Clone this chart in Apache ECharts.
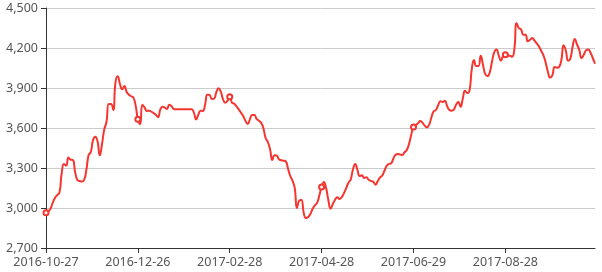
<!DOCTYPE html>
<html>
<head>
<meta charset="utf-8">
<script src="https://cdn.jsdelivr.net/npm/echarts@6/dist/echarts.min.js"></script>
<style>
html,body{margin:0;padding:0;background:#fff;}
#chart{width:602px;height:272px;}
</style>
</head>
<body>
<div id="chart"></div>
<script>
// Category dates (label shown every 41st point)
const dates = [
  // segment from 2016-10-27
  '2016-10-27','2016-10-28','2016-10-31','2016-11-01','2016-11-02','2016-11-03','2016-11-04','2016-11-07','2016-11-08','2016-11-09',
  '2016-11-10','2016-11-11','2016-11-14','2016-11-15','2016-11-16','2016-11-17','2016-11-18','2016-11-21','2016-11-22','2016-11-23',
  '2016-11-24','2016-11-28','2016-11-29','2016-11-30','2016-12-01','2016-12-02','2016-12-05','2016-12-06','2016-12-07','2016-12-08',
  '2016-12-09','2016-12-12','2016-12-13','2016-12-14','2016-12-15','2016-12-16','2016-12-19','2016-12-20','2016-12-21','2016-12-22',
  '2016-12-23',
  // segment from 2016-12-26
  '2016-12-26','2016-12-27','2016-12-28','2016-12-29','2016-12-30','2017-01-03','2017-01-04','2017-01-05','2017-01-06','2017-01-09',
  '2017-01-10','2017-01-11','2017-01-12','2017-01-13','2017-01-16','2017-01-17','2017-01-18','2017-01-19','2017-01-20','2017-01-23',
  '2017-01-24','2017-01-25','2017-01-26','2017-01-27','2017-02-03','2017-02-06','2017-02-07','2017-02-08','2017-02-09','2017-02-10',
  '2017-02-13','2017-02-14','2017-02-15','2017-02-16','2017-02-17','2017-02-20','2017-02-21','2017-02-22','2017-02-23','2017-02-24',
  '2017-02-27',
  // segment from 2017-02-28
  '2017-02-28','2017-03-01','2017-03-02','2017-03-03','2017-03-06','2017-03-07','2017-03-08','2017-03-09','2017-03-10','2017-03-13',
  '2017-03-14','2017-03-15','2017-03-16','2017-03-17','2017-03-20','2017-03-21','2017-03-22','2017-03-23','2017-03-24','2017-03-27',
  '2017-03-28','2017-03-29','2017-03-30','2017-03-31','2017-04-05','2017-04-06','2017-04-07','2017-04-10','2017-04-11','2017-04-12',
  '2017-04-13','2017-04-14','2017-04-17','2017-04-18','2017-04-19','2017-04-20','2017-04-21','2017-04-24','2017-04-25','2017-04-26',
  '2017-04-27',
  // segment from 2017-04-28
  '2017-04-28','2017-05-02','2017-05-03','2017-05-04','2017-05-05','2017-05-08','2017-05-09','2017-05-10','2017-05-11','2017-05-12',
  '2017-05-15','2017-05-16','2017-05-17','2017-05-18','2017-05-19','2017-05-22','2017-05-23','2017-05-24','2017-05-25','2017-05-26',
  '2017-05-31','2017-06-01','2017-06-02','2017-06-05','2017-06-06','2017-06-07','2017-06-08','2017-06-09','2017-06-12','2017-06-13',
  '2017-06-14','2017-06-15','2017-06-16','2017-06-19','2017-06-20','2017-06-21','2017-06-22','2017-06-23','2017-06-26','2017-06-27',
  '2017-06-28',
  // segment from 2017-06-29
  '2017-06-29','2017-06-30','2017-07-03','2017-07-04','2017-07-05','2017-07-06','2017-07-07','2017-07-10','2017-07-11','2017-07-12',
  '2017-07-13','2017-07-17','2017-07-18','2017-07-19','2017-07-20','2017-07-21','2017-07-24','2017-07-25','2017-07-26','2017-07-27',
  '2017-07-28','2017-07-31','2017-08-01','2017-08-02','2017-08-03','2017-08-04','2017-08-07','2017-08-08','2017-08-09','2017-08-10',
  '2017-08-11','2017-08-14','2017-08-15','2017-08-16','2017-08-17','2017-08-18','2017-08-21','2017-08-22','2017-08-23','2017-08-24',
  '2017-08-25',
  // segment from 2017-08-28
  '2017-08-28','2017-08-29','2017-08-30','2017-08-31','2017-09-01','2017-09-04','2017-09-05','2017-09-06','2017-09-07','2017-09-08',
  '2017-09-11','2017-09-12','2017-09-13','2017-09-14','2017-09-15','2017-09-18','2017-09-19','2017-09-20','2017-09-21','2017-09-22',
  '2017-09-25','2017-09-26','2017-09-27','2017-09-28','2017-09-29','2017-10-09','2017-10-10','2017-10-11','2017-10-12','2017-10-13',
  '2017-10-16','2017-10-17','2017-10-18','2017-10-19','2017-10-20','2017-10-23','2017-10-24','2017-10-25','2017-10-26','2017-10-27',
  '2017-10-30'
];

// Series values
const prices = [
  2965,2975,2995,3040,3075,3097,3115,3260,3330,3318,
  3378,3362,3360,3270,3210,3203,3198,3210,3285,3395,
  3420,3510,3535,3500,3395,3480,3590,3645,3780,3780,
  3735,3940,3988,3930,3890,3915,3870,3850,3838,3828,
  3770,
  3665,3628,3775,3755,3728,3730,3722,3712,3700,3682,
  3738,3760,3752,3742,3775,3765,3742,3740,3740,3740,
  3740,3740,3740,3740,3740,3715,3665,3700,3730,3728,
  3775,3850,3848,3818,3820,3868,3898,3872,3815,3790,
  3805,
  3835,3790,3782,3762,3740,3715,3690,3655,3630,3665,
  3697,3697,3668,3655,3640,3600,3525,3495,3440,3360,
  3395,3392,3365,3358,3355,3350,3295,3240,3205,3150,
  3000,3055,3060,2965,2925,2932,2955,2995,3020,3040,
  3095,
  3158,3195,3150,3060,2995,3030,3062,3080,3068,3082,
  3112,3150,3190,3215,3290,3330,3285,3240,3245,3225,
  3230,3212,3203,3198,3175,3200,3228,3242,3278,3315,
  3330,3335,3370,3400,3405,3402,3398,3418,3435,3480,
  3550,
  3608,3622,3635,3652,3640,3618,3605,3625,3680,3725,
  3735,3770,3800,3795,3805,3765,3735,3730,3738,3775,
  3795,3760,3822,3880,3862,3880,4040,4110,4065,4065,
  4142,4075,4005,3990,4015,4095,4165,4188,4147,4105,
  4140,
  4150,4142,4142,4135,4190,4385,4350,4340,4300,4300,
  4250,4262,4275,4255,4235,4212,4178,4145,4090,4020,
  3978,3997,4058,4052,4058,4110,4220,4180,4105,4120,
  4210,4268,4225,4185,4125,4150,4182,4188,4165,4125,
  4082
];

const yMin = 2700, yMax = 4500, yStep = 300;
const labelEvery = 40;

const chart = echarts.init(document.getElementById('chart'), null, {renderer: 'canvas'});
const font = '"Noto Sans", "DejaVu Sans", sans-serif';
chart.setOption({
  animation: false,
  backgroundColor: '#fff',
  grid: {left: 46, right: 7, top: 8, bottom: 24, containLabel: false},
  xAxis: {
    type: 'category',
    data: dates,
    boundaryGap: false,
    axisLine: {show: true, lineStyle: {color: '#333', width: 1}},
    axisTick: {show: true, interval: labelEvery, length: 5, lineStyle: {color: '#333'}},
    axisLabel: {interval: labelEvery, color: '#555', fontSize: 12.5, fontFamily: font, margin: 8},
    splitLine: {show: false}
  },
  yAxis: {
    type: 'value',
    min: yMin, max: yMax, interval: yStep,
    axisLine: {show: true, lineStyle: {color: '#333', width: 1}},
    axisTick: {show: true, length: 5, lineStyle: {color: '#333'}},
    axisLabel: {color: '#555', fontSize: 12.5, fontFamily: font, margin: 8},
    splitLine: {show: true, lineStyle: {color: '#ccc', width: 1}}
  },
  series: [{
    type: 'line',
    data: prices,
    smooth: true,
    symbol: 'emptyCircle',
    symbolSize: 5,
    showSymbol: true,
    showAllSymbol: 'auto',
    lineStyle: {color: '#f5352f', width: 2},
    itemStyle: {color: '#f5352f', borderWidth: 1.5}
  }]
});
</script>
</body>
</html>
